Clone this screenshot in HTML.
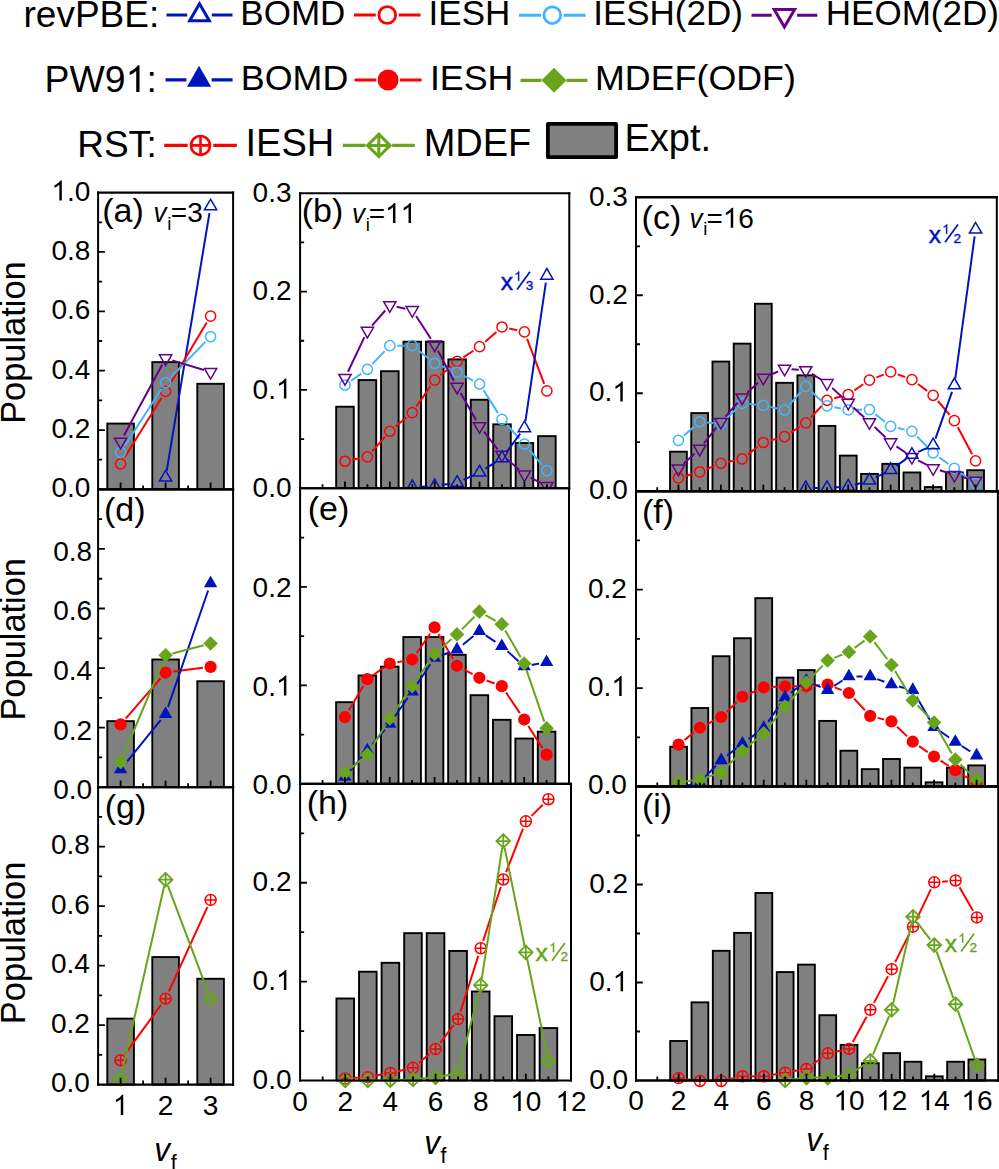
<!DOCTYPE html>
<html><head><meta charset="utf-8"><style>
html,body{margin:0;padding:0;background:#fff;overflow:hidden;width:999px;height:1169px;}
svg{display:block;}
text{font-family:"Liberation Sans", sans-serif;font-kerning:none;}
</style></head><body>
<svg width="999" height="1169" viewBox="0 0 999 1169">
<rect width="999" height="1169" fill="#fff"/>
<clipPath id="clip10"><rect x="98.1" y="192.6" width="135.00" height="296.80"/></clipPath>
<g clip-path="url(#clip10)">
<rect x="107.30" y="423.57" width="26.60" height="65.83" fill="#808080" stroke="#000" stroke-width="1.9"/>
<rect x="152.30" y="362.13" width="26.60" height="127.27" fill="#808080" stroke="#000" stroke-width="1.9"/>
<rect x="197.30" y="383.80" width="26.60" height="105.60" fill="#808080" stroke="#000" stroke-width="1.9"/>
<path d="M166.75,470.62L209.45,213.15" stroke="#0014BE" stroke-width="2.0" fill="none"/>
<polygon points="159.45,481.07 171.75,481.07 165.60,470.42" fill="none" stroke="#0014BE" stroke-width="1.5" stroke-linejoin="miter"/>
<polygon points="204.45,209.80 216.75,209.80 210.60,199.15" fill="none" stroke="#0014BE" stroke-width="1.5" stroke-linejoin="miter"/>
<path d="M124.53,457.55L161.67,397.78M169.42,385.06L206.78,322.47" stroke="#FF0000" stroke-width="2.0" fill="none"/>
<circle cx="120.60" cy="463.88" r="5.10" fill="none" stroke="#FF0000" stroke-width="1.5"/>
<circle cx="165.60" cy="391.46" r="5.10" fill="none" stroke="#FF0000" stroke-width="1.5"/>
<circle cx="210.60" cy="316.07" r="5.10" fill="none" stroke="#FF0000" stroke-width="1.5"/>
<path d="M124.64,446.04L161.56,388.81M170.81,377.23L205.39,341.87" stroke="#3DB5FF" stroke-width="2.0" fill="none"/>
<circle cx="120.60" cy="452.30" r="5.10" fill="none" stroke="#3DB5FF" stroke-width="1.5"/>
<circle cx="165.60" cy="382.55" r="5.10" fill="none" stroke="#3DB5FF" stroke-width="1.5"/>
<circle cx="210.60" cy="336.55" r="5.10" fill="none" stroke="#3DB5FF" stroke-width="1.5"/>
<path d="M123.92,435.57L162.28,364.49M172.30,360.36L203.90,369.95" stroke="#66008A" stroke-width="2.0" fill="none"/>
<polygon points="114.45,438.18 126.75,438.18 120.60,448.83" fill="none" stroke="#66008A" stroke-width="1.5" stroke-linejoin="miter"/>
<polygon points="159.45,354.78 171.75,354.78 165.60,365.43" fill="none" stroke="#66008A" stroke-width="1.5" stroke-linejoin="miter"/>
<polygon points="204.45,368.43 216.75,368.43 210.60,379.08" fill="none" stroke="#66008A" stroke-width="1.5" stroke-linejoin="miter"/>
</g>
<path d="M98.10,459.72h4.0M98.10,430.04h6.8M98.10,400.36h4.0M98.10,370.68h6.8M98.10,341.00h4.0M98.10,311.32h6.8M98.10,281.64h4.0M98.10,251.96h6.8M98.10,222.28h4.0M120.60,489.40v-6.8M165.60,489.40v-6.8M210.60,489.40v-6.8M143.10,489.40v-4.0M188.10,489.40v-4.0" stroke="#000" stroke-width="1.8" fill="none"/>
<path d="M97.10,192.60H234.10M97.10,489.40H234.10" stroke="#000" stroke-width="2.1" fill="none"/>
<path d="M98.10,191.55V490.45M233.10,191.55V490.45" stroke="#000" stroke-width="2" fill="none"/>
<text x="51.38" y="497.34" font-size="28" fill="#000" style="">0.0</text>
<text x="51.38" y="437.98" font-size="28" fill="#000" style="">0.2</text>
<text x="51.38" y="378.62" font-size="28" fill="#000" style="">0.4</text>
<text x="51.38" y="319.26" font-size="28" fill="#000" style="">0.6</text>
<text x="51.38" y="259.90" font-size="28" fill="#000" style="">0.8</text>
<path d="M763 0H583V1147Q518 1085 422 1029Q326 973 225 935V1109Q406 1194 518 1295Q630 1396 670 1466H763Z" fill="#000" transform="translate(51.38,200.54) scale(0.01367,-0.01367)"/>
<text x="66.95" y="200.54" font-size="28" fill="#000">.0</text>
<text x="102.19" y="221.70" font-size="34" fill="#000" style="">(a)</text>
<clipPath id="clip11"><rect x="98.1" y="489.4" width="135.00" height="297.80"/></clipPath>
<g clip-path="url(#clip11)">
<rect x="107.30" y="721.15" width="26.60" height="66.05" fill="#808080" stroke="#000" stroke-width="1.9"/>
<rect x="152.30" y="659.50" width="26.60" height="127.70" fill="#808080" stroke="#000" stroke-width="1.9"/>
<rect x="197.30" y="681.24" width="26.60" height="105.96" fill="#808080" stroke="#000" stroke-width="1.9"/>
<path d="M125.65,718.55L160.55,678.36M173.24,671.59L202.96,667.85" stroke="#FF0000" stroke-width="2.0" fill="none"/>
<circle cx="120.60" cy="724.36" r="6.10" fill="#FF0000"/>
<circle cx="165.60" cy="672.55" r="6.10" fill="#FF0000"/>
<circle cx="210.60" cy="666.89" r="6.10" fill="#FF0000"/>
<path d="M125.39,763.58L160.81,719.99M168.07,706.90L208.13,590.54" stroke="#0014BE" stroke-width="2.0" fill="none"/>
<polygon points="113.90,773.35 127.30,773.35 120.60,761.74" fill="#0014BE"/>
<polygon points="158.90,717.96 172.30,717.96 165.60,706.35" fill="#0014BE"/>
<polygon points="203.90,587.22 217.30,587.22 210.60,575.62" fill="#0014BE"/>
<path d="M123.35,755.49L162.85,661.79M172.44,653.48L203.76,645.28" stroke="#68A41C" stroke-width="2.0" fill="none"/>
<polygon points="120.60,754.71 127.90,762.01 120.60,769.31 113.30,762.01" fill="#68A41C"/>
<polygon points="165.60,647.97 172.90,655.27 165.60,662.57 158.30,655.27" fill="#68A41C"/>
<polygon points="210.60,636.18 217.90,643.48 210.60,650.78 203.30,643.48" fill="#68A41C"/>
</g>
<path d="M98.10,757.42h4.0M98.10,727.64h6.8M98.10,697.86h4.0M98.10,668.08h6.8M98.10,638.30h4.0M98.10,608.52h6.8M98.10,578.74h4.0M98.10,548.96h6.8M98.10,519.18h4.0M120.60,787.20v-6.8M165.60,787.20v-6.8M210.60,787.20v-6.8M143.10,787.20v-4.0M188.10,787.20v-4.0" stroke="#000" stroke-width="1.8" fill="none"/>
<path d="M97.10,489.40H234.10M97.10,787.20H234.10" stroke="#000" stroke-width="2.1" fill="none"/>
<path d="M98.10,488.35V788.25M233.10,488.35V788.25" stroke="#000" stroke-width="2" fill="none"/>
<text x="53.18" y="799.14" font-size="28" fill="#000" style="">0.0</text>
<text x="53.18" y="739.58" font-size="28" fill="#000" style="">0.2</text>
<text x="53.18" y="680.02" font-size="28" fill="#000" style="">0.4</text>
<text x="53.18" y="620.46" font-size="28" fill="#000" style="">0.6</text>
<text x="53.18" y="560.90" font-size="28" fill="#000" style="">0.8</text>
<text x="103.99" y="520.80" font-size="34" fill="#000" style="">(d)</text>
<clipPath id="clip12"><rect x="98.1" y="787.2" width="135.00" height="297.40"/></clipPath>
<g>
<rect x="107.30" y="1018.63" width="26.60" height="65.96" fill="#808080" stroke="#000" stroke-width="1.9"/>
<rect x="152.30" y="957.07" width="26.60" height="127.53" fill="#808080" stroke="#000" stroke-width="1.9"/>
<rect x="197.30" y="978.78" width="26.60" height="105.82" fill="#808080" stroke="#000" stroke-width="1.9"/>
<path d="M125.23,1053.88L160.97,1004.99M168.86,991.51L207.34,907.06" stroke="#FF0000" stroke-width="2.0" fill="none"/>
<g stroke="#FF0000" stroke-width="1.5" fill="none"><circle cx="120.60" cy="1060.21" r="5.50"/><path d="M115.10,1060.21H126.10M120.60,1054.71V1065.71"/></g>
<g stroke="#FF0000" stroke-width="1.5" fill="none"><circle cx="165.60" cy="998.65" r="5.50"/><path d="M160.10,998.65H171.10M165.60,993.15V1004.15"/></g>
<g stroke="#FF0000" stroke-width="1.5" fill="none"><circle cx="210.60" cy="899.91" r="5.50"/><path d="M205.10,899.91H216.10M210.60,894.41V905.41"/></g>
<path d="M122.08,1072.27L164.12,886.23M167.97,885.96L208.23,992.68" stroke="#68A41C" stroke-width="2.0" fill="none"/>
<g stroke="#68A41C" stroke-width="1.8" fill="none"><polygon points="120.60,1072.00 127.40,1078.80 120.60,1085.60 113.80,1078.80"/><path d="M113.80,1078.80H127.40M120.60,1072.00V1085.60"/></g>
<g stroke="#68A41C" stroke-width="1.8" fill="none"><polygon points="165.60,872.89 172.40,879.69 165.60,886.49 158.80,879.69"/><path d="M158.80,879.69H172.40M165.60,872.89V886.49"/></g>
<g stroke="#68A41C" stroke-width="1.8" fill="none"><polygon points="210.60,992.15 217.40,998.95 210.60,1005.75 203.80,998.95"/><path d="M203.80,998.95H217.40M210.60,992.15V1005.75"/></g>
</g>
<path d="M98.10,1054.86h4.0M98.10,1025.12h6.8M98.10,995.38h4.0M98.10,965.64h6.8M98.10,935.90h4.0M98.10,906.16h6.8M98.10,876.42h4.0M98.10,846.68h6.8M98.10,816.94h4.0M120.60,1084.60v-6.8M165.60,1084.60v-6.8M210.60,1084.60v-6.8M143.10,1084.60v-4.0M188.10,1084.60v-4.0" stroke="#000" stroke-width="1.8" fill="none"/>
<path d="M97.10,787.20H234.10M97.10,1084.60H234.10" stroke="#000" stroke-width="2.1" fill="none"/>
<path d="M98.10,786.15V1085.65M233.10,786.15V1085.65" stroke="#000" stroke-width="2" fill="none"/>
<text x="50.88" y="1092.34" font-size="28" fill="#000" style="">0.0</text>
<text x="50.88" y="1032.86" font-size="28" fill="#000" style="">0.2</text>
<text x="50.88" y="973.38" font-size="28" fill="#000" style="">0.4</text>
<text x="50.88" y="913.90" font-size="28" fill="#000" style="">0.6</text>
<text x="50.88" y="854.42" font-size="28" fill="#000" style="">0.8</text>
<text x="104.69" y="818.40" font-size="34" fill="#000" style="">(g)</text>
<clipPath id="clip20"><rect x="300.1" y="193.2" width="269.20" height="295.10"/></clipPath>
<g clip-path="url(#clip20)">
<rect x="336.17" y="406.72" width="17.60" height="81.58" fill="#808080" stroke="#000" stroke-width="1.9"/>
<rect x="358.60" y="380.06" width="17.60" height="108.24" fill="#808080" stroke="#000" stroke-width="1.9"/>
<rect x="381.03" y="371.21" width="17.60" height="117.09" fill="#808080" stroke="#000" stroke-width="1.9"/>
<rect x="403.47" y="341.70" width="17.60" height="146.60" fill="#808080" stroke="#000" stroke-width="1.9"/>
<rect x="425.90" y="341.70" width="17.60" height="146.60" fill="#808080" stroke="#000" stroke-width="1.9"/>
<rect x="448.33" y="359.41" width="17.60" height="128.89" fill="#808080" stroke="#000" stroke-width="1.9"/>
<rect x="470.77" y="399.74" width="17.60" height="88.56" fill="#808080" stroke="#000" stroke-width="1.9"/>
<rect x="493.20" y="424.33" width="17.60" height="63.97" fill="#808080" stroke="#000" stroke-width="1.9"/>
<rect x="515.63" y="443.02" width="17.60" height="45.28" fill="#808080" stroke="#000" stroke-width="1.9"/>
<rect x="538.07" y="436.13" width="17.60" height="52.17" fill="#808080" stroke="#000" stroke-width="1.9"/>
<path d="M352.28,459.81L360.09,458.26M372.31,451.22L384.92,436.85M395.56,426.48L406.54,417.33M416.50,406.43L430.46,386.23M440.42,375.33L451.41,366.18M463.36,357.31L473.34,350.75M485.17,341.74L496.40,331.89M509.28,328.57L517.16,330.30M527.08,338.86L544.22,383.95" stroke="#FF0000" stroke-width="2.0" fill="none"/>
<circle cx="344.97" cy="461.25" r="5.10" fill="none" stroke="#FF0000" stroke-width="1.5"/>
<circle cx="367.40" cy="456.82" r="5.10" fill="none" stroke="#FF0000" stroke-width="1.5"/>
<circle cx="389.83" cy="431.25" r="5.10" fill="none" stroke="#FF0000" stroke-width="1.5"/>
<circle cx="412.27" cy="412.56" r="5.10" fill="none" stroke="#FF0000" stroke-width="1.5"/>
<circle cx="434.70" cy="380.10" r="5.10" fill="none" stroke="#FF0000" stroke-width="1.5"/>
<circle cx="457.13" cy="361.41" r="5.10" fill="none" stroke="#FF0000" stroke-width="1.5"/>
<circle cx="479.57" cy="346.65" r="5.10" fill="none" stroke="#FF0000" stroke-width="1.5"/>
<circle cx="502.00" cy="326.98" r="5.10" fill="none" stroke="#FF0000" stroke-width="1.5"/>
<circle cx="524.43" cy="331.90" r="5.10" fill="none" stroke="#FF0000" stroke-width="1.5"/>
<circle cx="546.87" cy="390.92" r="5.10" fill="none" stroke="#FF0000" stroke-width="1.5"/>
<path d="M351.07,380.74L361.30,373.56M372.53,363.88L384.70,351.07M397.28,345.67L404.82,345.67M418.11,350.28L428.85,358.76M441.63,366.11L450.20,369.49M463.73,375.70L472.97,380.56M483.55,390.32L498.01,413.15M507.02,424.95L519.41,438.53M529.24,449.73L542.06,464.90" stroke="#3DB5FF" stroke-width="2.0" fill="none"/>
<circle cx="344.97" cy="385.01" r="5.10" fill="none" stroke="#3DB5FF" stroke-width="1.5"/>
<circle cx="367.40" cy="369.28" r="5.10" fill="none" stroke="#3DB5FF" stroke-width="1.5"/>
<circle cx="389.83" cy="345.67" r="5.10" fill="none" stroke="#3DB5FF" stroke-width="1.5"/>
<circle cx="412.27" cy="345.67" r="5.10" fill="none" stroke="#3DB5FF" stroke-width="1.5"/>
<circle cx="434.70" cy="363.37" r="5.10" fill="none" stroke="#3DB5FF" stroke-width="1.5"/>
<circle cx="457.13" cy="372.23" r="5.10" fill="none" stroke="#3DB5FF" stroke-width="1.5"/>
<circle cx="479.57" cy="384.03" r="5.10" fill="none" stroke="#3DB5FF" stroke-width="1.5"/>
<circle cx="502.00" cy="419.44" r="5.10" fill="none" stroke="#3DB5FF" stroke-width="1.5"/>
<circle cx="524.43" cy="444.04" r="5.10" fill="none" stroke="#3DB5FF" stroke-width="1.5"/>
<circle cx="546.87" cy="470.59" r="5.10" fill="none" stroke="#3DB5FF" stroke-width="1.5"/>
<path d="M347.97,371.72L364.40,337.14M372.02,325.56L385.22,310.51M396.67,306.75L405.43,308.67M416.09,316.03L430.88,338.73M437.98,350.78L453.85,380.71M460.60,392.97L476.10,420.16M483.89,431.74L497.67,449.26M507.26,459.38L519.17,469.82M530.65,477.65L540.65,482.83" stroke="#66008A" stroke-width="2.0" fill="none"/>
<polygon points="338.82,374.49 351.12,374.49 344.97,385.14" fill="none" stroke="#66008A" stroke-width="1.5" stroke-linejoin="miter"/>
<polygon points="361.25,327.27 373.55,327.27 367.40,337.92" fill="none" stroke="#66008A" stroke-width="1.5" stroke-linejoin="miter"/>
<polygon points="383.68,301.70 395.98,301.70 389.83,312.35" fill="none" stroke="#66008A" stroke-width="1.5" stroke-linejoin="miter"/>
<polygon points="406.12,306.61 418.42,306.61 412.27,317.27" fill="none" stroke="#66008A" stroke-width="1.5" stroke-linejoin="miter"/>
<polygon points="428.55,341.04 440.85,341.04 434.70,351.69" fill="none" stroke="#66008A" stroke-width="1.5" stroke-linejoin="miter"/>
<polygon points="450.98,383.34 463.28,383.34 457.13,393.99" fill="none" stroke="#66008A" stroke-width="1.5" stroke-linejoin="miter"/>
<polygon points="473.42,422.69 485.72,422.69 479.57,433.34" fill="none" stroke="#66008A" stroke-width="1.5" stroke-linejoin="miter"/>
<polygon points="495.85,451.21 508.15,451.21 502.00,461.87" fill="none" stroke="#66008A" stroke-width="1.5" stroke-linejoin="miter"/>
<polygon points="518.28,470.89 530.58,470.89 524.43,481.54" fill="none" stroke="#66008A" stroke-width="1.5" stroke-linejoin="miter"/>
<polygon points="540.72,482.49 553.02,482.49 546.87,493.15" fill="none" stroke="#66008A" stroke-width="1.5" stroke-linejoin="miter"/>
<path d="M419.26,486.82L427.71,486.45M441.62,485.11L450.21,483.83M463.48,479.85L473.22,475.32M485.47,468.61L496.09,461.86M506.19,452.50L520.24,433.71M525.45,421.18L545.85,282.56" stroke="#0014BE" stroke-width="2.0" fill="none"/>
<polygon points="406.12,490.68 418.42,490.68 412.27,480.02" fill="none" stroke="#0014BE" stroke-width="1.5" stroke-linejoin="miter"/>
<polygon points="428.55,489.69 440.85,489.69 434.70,479.04" fill="none" stroke="#0014BE" stroke-width="1.5" stroke-linejoin="miter"/>
<polygon points="450.98,486.35 463.28,486.35 457.13,475.69" fill="none" stroke="#0014BE" stroke-width="1.5" stroke-linejoin="miter"/>
<polygon points="473.42,475.92 485.72,475.92 479.57,465.27" fill="none" stroke="#0014BE" stroke-width="1.5" stroke-linejoin="miter"/>
<polygon points="495.85,461.66 508.15,461.66 502.00,451.00" fill="none" stroke="#0014BE" stroke-width="1.5" stroke-linejoin="miter"/>
<polygon points="518.28,431.66 530.58,431.66 524.43,421.00" fill="none" stroke="#0014BE" stroke-width="1.5" stroke-linejoin="miter"/>
<polygon points="540.72,279.19 553.02,279.19 546.87,268.53" fill="none" stroke="#0014BE" stroke-width="1.5" stroke-linejoin="miter"/>
</g>
<path d="M300.10,439.12h4.0M300.10,389.93h6.8M300.10,340.75h4.0M300.10,291.57h6.8M300.10,242.38h4.0M344.97,488.30v-6.8M389.83,488.30v-6.8M434.70,488.30v-6.8M479.57,488.30v-6.8M524.43,488.30v-6.8M322.53,488.30v-4.0M367.40,488.30v-4.0M412.27,488.30v-4.0M457.13,488.30v-4.0M502.00,488.30v-4.0M546.87,488.30v-4.0" stroke="#000" stroke-width="1.8" fill="none"/>
<path d="M299.10,193.20H570.30M299.10,488.30H570.30" stroke="#000" stroke-width="2.1" fill="none"/>
<path d="M300.10,192.15V489.35M569.30,192.15V489.35" stroke="#000" stroke-width="2" fill="none"/>
<text x="252.58" y="496.94" font-size="28" fill="#000" style="">0.0</text>
<text x="252.58" y="398.57" font-size="28" fill="#000">0.</text>
<path d="M763 0H583V1147Q518 1085 422 1029Q326 973 225 935V1109Q406 1194 518 1295Q630 1396 670 1466H763Z" fill="#000" transform="translate(275.93,398.57) scale(0.01367,-0.01367)"/>
<text x="252.58" y="300.21" font-size="28" fill="#000" style="">0.2</text>
<text x="252.58" y="201.84" font-size="28" fill="#000" style="">0.3</text>
<text x="301.79" y="222.40" font-size="34" fill="#000" style="">(b)</text>
<clipPath id="clip21"><rect x="300.1" y="488.3" width="268.90" height="295.60"/></clipPath>
<g clip-path="url(#clip21)">
<rect x="336.12" y="702.18" width="17.60" height="81.72" fill="#808080" stroke="#000" stroke-width="1.9"/>
<rect x="358.53" y="675.48" width="17.60" height="108.42" fill="#808080" stroke="#000" stroke-width="1.9"/>
<rect x="380.93" y="666.61" width="17.60" height="117.29" fill="#808080" stroke="#000" stroke-width="1.9"/>
<rect x="403.34" y="637.05" width="17.60" height="146.85" fill="#808080" stroke="#000" stroke-width="1.9"/>
<rect x="425.75" y="637.05" width="17.60" height="146.85" fill="#808080" stroke="#000" stroke-width="1.9"/>
<rect x="448.16" y="654.79" width="17.60" height="129.11" fill="#808080" stroke="#000" stroke-width="1.9"/>
<rect x="470.57" y="695.18" width="17.60" height="88.72" fill="#808080" stroke="#000" stroke-width="1.9"/>
<rect x="492.97" y="719.82" width="17.60" height="64.08" fill="#808080" stroke="#000" stroke-width="1.9"/>
<rect x="515.38" y="738.54" width="17.60" height="45.36" fill="#808080" stroke="#000" stroke-width="1.9"/>
<rect x="537.79" y="731.64" width="17.60" height="52.26" fill="#808080" stroke="#000" stroke-width="1.9"/>
<path d="M348.83,710.46L363.41,685.79M373.64,674.75L383.42,667.90M397.32,662.16L404.56,660.88M416.55,653.24L430.14,633.74M438.44,634.08L453.07,659.11M463.74,669.40L472.58,674.14M486.58,680.48L494.56,683.46M506.06,692.55L519.89,713.16M528.33,726.05L542.45,748.15" stroke="#FF0000" stroke-width="2.0" fill="none"/>
<circle cx="344.92" cy="717.09" r="6.10" fill="#FF0000"/>
<circle cx="367.33" cy="679.16" r="6.10" fill="#FF0000"/>
<circle cx="389.73" cy="663.49" r="6.10" fill="#FF0000"/>
<circle cx="412.14" cy="659.55" r="6.10" fill="#FF0000"/>
<circle cx="434.55" cy="627.43" r="6.10" fill="#FF0000"/>
<circle cx="456.96" cy="665.76" r="6.10" fill="#FF0000"/>
<circle cx="479.37" cy="677.78" r="6.10" fill="#FF0000"/>
<circle cx="501.77" cy="686.15" r="6.10" fill="#FF0000"/>
<circle cx="524.18" cy="719.56" r="6.10" fill="#FF0000"/>
<circle cx="546.59" cy="754.64" r="6.10" fill="#FF0000"/>
<path d="M349.81,771.15L362.43,756.17M372.22,744.55L384.84,729.57M394.07,717.52L407.80,697.78M416.36,685.21L430.33,664.26M441.67,655.28L449.84,652.22M462.84,644.75L473.48,636.05M485.70,635.44L495.44,641.91M507.42,651.20L518.54,661.22M531.66,664.93L539.12,663.56" stroke="#0014BE" stroke-width="2.0" fill="none"/>
<polygon points="338.22,780.83 351.62,780.83 344.92,769.23" fill="#0014BE"/>
<polygon points="360.63,754.23 374.03,754.23 367.33,742.63" fill="#0014BE"/>
<polygon points="383.03,727.63 396.43,727.63 389.73,716.02" fill="#0014BE"/>
<polygon points="405.44,695.41 418.84,695.41 412.14,683.80" fill="#0014BE"/>
<polygon points="427.85,661.81 441.25,661.81 434.55,650.20" fill="#0014BE"/>
<polygon points="450.26,653.43 463.66,653.43 456.96,641.83" fill="#0014BE"/>
<polygon points="472.67,635.10 486.07,635.10 479.37,623.50" fill="#0014BE"/>
<polygon points="495.07,649.98 508.47,649.98 501.77,638.38" fill="#0014BE"/>
<polygon points="517.48,670.18 530.88,670.18 524.18,658.58" fill="#0014BE"/>
<polygon points="539.89,666.04 553.29,666.04 546.59,654.44" fill="#0014BE"/>
<path d="M350.38,768.57L361.86,759.13M371.05,748.62L386.01,724.49M393.76,712.66L408.11,691.97M416.19,680.35L430.50,659.84M439.87,649.37L451.63,639.08M461.92,629.38L474.40,616.71M485.53,615.13L495.61,620.81M505.29,630.42L520.67,657.35M526.49,670.18L544.28,721.64" stroke="#68A41C" stroke-width="2.0" fill="none"/>
<polygon points="344.92,765.76 352.22,773.06 344.92,780.36 337.62,773.06" fill="#68A41C"/>
<polygon points="367.33,747.34 374.63,754.64 367.33,761.94 360.03,754.64" fill="#68A41C"/>
<polygon points="389.73,711.17 397.03,718.47 389.73,725.77 382.43,718.47" fill="#68A41C"/>
<polygon points="412.14,678.85 419.44,686.15 412.14,693.45 404.84,686.15" fill="#68A41C"/>
<polygon points="434.55,646.73 441.85,654.03 434.55,661.33 427.25,654.03" fill="#68A41C"/>
<polygon points="456.96,627.12 464.26,634.42 456.96,641.72 449.66,634.42" fill="#68A41C"/>
<polygon points="479.37,604.36 486.67,611.66 479.37,618.96 472.07,611.66" fill="#68A41C"/>
<polygon points="501.77,616.98 509.07,624.28 501.77,631.58 494.47,624.28" fill="#68A41C"/>
<polygon points="524.18,656.19 531.48,663.49 524.18,670.79 516.88,663.49" fill="#68A41C"/>
<polygon points="546.59,721.03 553.89,728.33 546.59,735.63 539.29,728.33" fill="#68A41C"/>
</g>
<path d="M300.10,734.63h4.0M300.10,685.37h6.8M300.10,636.10h4.0M300.10,586.83h6.8M300.10,537.57h4.0M344.92,783.90v-6.8M389.73,783.90v-6.8M434.55,783.90v-6.8M479.37,783.90v-6.8M524.18,783.90v-6.8M322.51,783.90v-4.0M367.33,783.90v-4.0M412.14,783.90v-4.0M456.96,783.90v-4.0M501.77,783.90v-4.0M546.59,783.90v-4.0" stroke="#000" stroke-width="1.8" fill="none"/>
<path d="M299.10,488.30H570.00M299.10,783.90H570.00" stroke="#000" stroke-width="2.1" fill="none"/>
<path d="M300.10,487.25V784.95M569.00,487.25V784.95" stroke="#000" stroke-width="2" fill="none"/>
<text x="252.58" y="794.04" font-size="28" fill="#000" style="">0.0</text>
<text x="252.58" y="695.51" font-size="28" fill="#000">0.</text>
<path d="M763 0H583V1147Q518 1085 422 1029Q326 973 225 935V1109Q406 1194 518 1295Q630 1396 670 1466H763Z" fill="#000" transform="translate(275.93,695.51) scale(0.01367,-0.01367)"/>
<text x="252.58" y="596.97" font-size="28" fill="#000" style="">0.2</text>
<text x="307.69" y="519.50" font-size="34" fill="#000" style="">(e)</text>
<clipPath id="clip22"><rect x="300.1" y="783.9" width="270.90" height="296.60"/></clipPath>
<g>
<rect x="336.45" y="998.50" width="17.60" height="82.00" fill="#808080" stroke="#000" stroke-width="1.9"/>
<rect x="359.03" y="971.71" width="17.60" height="108.79" fill="#808080" stroke="#000" stroke-width="1.9"/>
<rect x="381.60" y="962.81" width="17.60" height="117.69" fill="#808080" stroke="#000" stroke-width="1.9"/>
<rect x="404.18" y="933.15" width="17.60" height="147.35" fill="#808080" stroke="#000" stroke-width="1.9"/>
<rect x="426.75" y="933.15" width="17.60" height="147.35" fill="#808080" stroke="#000" stroke-width="1.9"/>
<rect x="449.32" y="950.95" width="17.60" height="129.55" fill="#808080" stroke="#000" stroke-width="1.9"/>
<rect x="471.90" y="991.48" width="17.60" height="89.02" fill="#808080" stroke="#000" stroke-width="1.9"/>
<rect x="494.47" y="1016.20" width="17.60" height="64.30" fill="#808080" stroke="#000" stroke-width="1.9"/>
<rect x="517.05" y="1034.98" width="17.60" height="45.52" fill="#808080" stroke="#000" stroke-width="1.9"/>
<rect x="539.62" y="1028.06" width="17.60" height="52.44" fill="#808080" stroke="#000" stroke-width="1.9"/>
<path d="M353.09,1078.04L359.99,1077.62M375.54,1075.69L382.69,1074.34M398.06,1071.18L405.31,1069.56M419.01,1062.82L429.52,1054.08M440.27,1042.79L453.40,1025.37M460.51,1011.62L478.32,955.70M483.15,940.76L500.82,886.96M506.12,872.19L523.01,828.69M531.45,815.87L542.82,804.72" stroke="#FF0000" stroke-width="2.0" fill="none"/>
<g stroke="#FF0000" stroke-width="1.5" fill="none"><circle cx="345.25" cy="1078.52" r="5.50"/><path d="M339.75,1078.52H350.75M345.25,1073.02V1084.02"/></g>
<g stroke="#FF0000" stroke-width="1.5" fill="none"><circle cx="367.83" cy="1077.14" r="5.50"/><path d="M362.33,1077.14H373.33M367.83,1071.64V1082.64"/></g>
<g stroke="#FF0000" stroke-width="1.5" fill="none"><circle cx="390.40" cy="1072.89" r="5.50"/><path d="M384.90,1072.89H395.90M390.40,1067.39V1078.39"/></g>
<g stroke="#FF0000" stroke-width="1.5" fill="none"><circle cx="412.98" cy="1067.85" r="5.50"/><path d="M407.48,1067.85H418.48M412.98,1062.35V1073.35"/></g>
<g stroke="#FF0000" stroke-width="1.5" fill="none"><circle cx="435.55" cy="1049.06" r="5.50"/><path d="M430.05,1049.06H441.05M435.55,1043.56V1054.56"/></g>
<g stroke="#FF0000" stroke-width="1.5" fill="none"><circle cx="458.12" cy="1019.10" r="5.50"/><path d="M452.62,1019.10H463.62M458.12,1013.60V1024.60"/></g>
<g stroke="#FF0000" stroke-width="1.5" fill="none"><circle cx="480.70" cy="948.22" r="5.50"/><path d="M475.20,948.22H486.20M480.70,942.72V953.72"/></g>
<g stroke="#FF0000" stroke-width="1.5" fill="none"><circle cx="503.27" cy="879.50" r="5.50"/><path d="M497.77,879.50H508.77M503.27,874.00V885.00"/></g>
<g stroke="#FF0000" stroke-width="1.5" fill="none"><circle cx="525.85" cy="821.37" r="5.50"/><path d="M520.35,821.37H531.35M525.85,815.87V826.87"/></g>
<g stroke="#FF0000" stroke-width="1.5" fill="none"><circle cx="548.42" cy="799.22" r="5.50"/><path d="M542.92,799.22H553.92M548.42,793.72V804.72"/></g>
<path d="M351.95,1080.50L361.13,1080.50M374.52,1080.41L383.70,1080.29M397.10,1080.00L406.28,1079.72M419.64,1078.87L428.88,1077.98M442.15,1076.18L451.53,1074.54M459.79,1066.89L479.04,991.68M481.74,978.57L502.24,847.66M504.61,847.61L524.52,945.80M527.21,958.93L547.06,1054.56" stroke="#68A41C" stroke-width="2.0" fill="none"/>
<g stroke="#68A41C" stroke-width="1.8" fill="none"><polygon points="345.25,1073.70 352.05,1080.50 345.25,1087.30 338.45,1080.50"/><path d="M338.45,1080.50H352.05M345.25,1073.70V1087.30"/></g>
<g stroke="#68A41C" stroke-width="1.8" fill="none"><polygon points="367.83,1073.70 374.63,1080.50 367.83,1087.30 361.03,1080.50"/><path d="M361.03,1080.50H374.63M367.83,1073.70V1087.30"/></g>
<g stroke="#68A41C" stroke-width="1.8" fill="none"><polygon points="390.40,1073.40 397.20,1080.20 390.40,1087.00 383.60,1080.20"/><path d="M383.60,1080.20H397.20M390.40,1073.40V1087.00"/></g>
<g stroke="#68A41C" stroke-width="1.8" fill="none"><polygon points="412.98,1072.71 419.78,1079.51 412.98,1086.31 406.18,1079.51"/><path d="M406.18,1079.51H419.78M412.98,1072.71V1086.31"/></g>
<g stroke="#68A41C" stroke-width="1.8" fill="none"><polygon points="435.55,1070.54 442.35,1077.34 435.55,1084.14 428.75,1077.34"/><path d="M428.75,1077.34H442.35M435.55,1070.54V1084.14"/></g>
<g stroke="#68A41C" stroke-width="1.8" fill="none"><polygon points="458.12,1066.58 464.93,1073.38 458.12,1080.18 451.32,1073.38"/><path d="M451.32,1073.38H464.93M458.12,1066.58V1080.18"/></g>
<g stroke="#68A41C" stroke-width="1.8" fill="none"><polygon points="480.70,978.39 487.50,985.19 480.70,991.99 473.90,985.19"/><path d="M473.90,985.19H487.50M480.70,978.39V991.99"/></g>
<g stroke="#68A41C" stroke-width="1.8" fill="none"><polygon points="503.27,834.24 510.07,841.04 503.27,847.84 496.47,841.04"/><path d="M496.47,841.04H510.07M503.27,834.24V847.84"/></g>
<g stroke="#68A41C" stroke-width="1.8" fill="none"><polygon points="525.85,945.57 532.65,952.37 525.85,959.17 519.05,952.37"/><path d="M519.05,952.37H532.65M525.85,945.57V959.17"/></g>
<g stroke="#68A41C" stroke-width="1.8" fill="none"><polygon points="548.42,1054.32 555.22,1061.12 548.42,1067.92 541.62,1061.12"/><path d="M541.62,1061.12H555.22M548.42,1054.32V1067.92"/></g>
</g>
<path d="M300.10,1031.07h4.0M300.10,981.63h6.8M300.10,932.20h4.0M300.10,882.77h6.8M300.10,833.33h4.0M345.25,1080.50v-6.8M390.40,1080.50v-6.8M435.55,1080.50v-6.8M480.70,1080.50v-6.8M525.85,1080.50v-6.8M322.68,1080.50v-4.0M367.83,1080.50v-4.0M412.98,1080.50v-4.0M458.12,1080.50v-4.0M503.27,1080.50v-4.0M548.42,1080.50v-4.0" stroke="#000" stroke-width="1.8" fill="none"/>
<path d="M299.10,783.90H572.00M299.10,1080.50H572.00" stroke="#000" stroke-width="2.1" fill="none"/>
<path d="M300.10,782.85V1081.55M571.00,782.85V1081.55" stroke="#000" stroke-width="2" fill="none"/>
<text x="252.58" y="1088.84" font-size="28" fill="#000" style="">0.0</text>
<text x="252.58" y="989.97" font-size="28" fill="#000">0.</text>
<path d="M763 0H583V1147Q518 1085 422 1029Q326 973 225 935V1109Q406 1194 518 1295Q630 1396 670 1466H763Z" fill="#000" transform="translate(275.93,989.97) scale(0.01367,-0.01367)"/>
<text x="252.58" y="891.11" font-size="28" fill="#000" style="">0.2</text>
<text x="306.69" y="813.70" font-size="34" fill="#000" style="">(h)</text>
<clipPath id="clip30"><rect x="636.0" y="197.3" width="360.80" height="293.90"/></clipPath>
<g clip-path="url(#clip30)">
<rect x="670.05" y="451.69" width="16.80" height="39.51" fill="#808080" stroke="#000" stroke-width="1.9"/>
<rect x="691.27" y="413.09" width="16.80" height="78.11" fill="#808080" stroke="#000" stroke-width="1.9"/>
<rect x="712.49" y="361.56" width="16.80" height="129.64" fill="#808080" stroke="#000" stroke-width="1.9"/>
<rect x="733.72" y="343.63" width="16.80" height="147.57" fill="#808080" stroke="#000" stroke-width="1.9"/>
<rect x="754.94" y="303.76" width="16.80" height="187.44" fill="#808080" stroke="#000" stroke-width="1.9"/>
<rect x="776.16" y="382.82" width="16.80" height="108.38" fill="#808080" stroke="#000" stroke-width="1.9"/>
<rect x="797.39" y="375.37" width="16.80" height="115.83" fill="#808080" stroke="#000" stroke-width="1.9"/>
<rect x="818.61" y="425.92" width="16.80" height="65.28" fill="#808080" stroke="#000" stroke-width="1.9"/>
<rect x="839.84" y="455.61" width="16.80" height="35.59" fill="#808080" stroke="#000" stroke-width="1.9"/>
<rect x="861.06" y="473.93" width="16.80" height="17.27" fill="#808080" stroke="#000" stroke-width="1.9"/>
<rect x="882.28" y="463.84" width="16.80" height="27.36" fill="#808080" stroke="#000" stroke-width="1.9"/>
<rect x="903.51" y="472.46" width="16.80" height="18.74" fill="#808080" stroke="#000" stroke-width="1.9"/>
<rect x="924.73" y="487.06" width="16.80" height="4.14" fill="#808080" stroke="#000" stroke-width="1.9"/>
<rect x="945.95" y="472.46" width="16.80" height="18.74" fill="#808080" stroke="#000" stroke-width="1.9"/>
<rect x="967.18" y="470.21" width="16.80" height="20.99" fill="#808080" stroke="#000" stroke-width="1.9"/>
<path d="M685.61,475.92L692.51,473.95M706.57,469.10L713.99,466.08M728.20,461.80L734.82,460.45M748.00,454.40L757.45,447.08M770.52,440.52L777.38,438.62M790.81,432.57L799.54,426.88M810.90,417.40L821.90,405.71M834.20,398.33L841.05,396.46M854.40,390.32L863.29,384.29M876.40,377.41L883.74,374.57M897.68,374.43L904.91,377.06M917.90,384.04L927.14,390.86M937.92,401.00L949.56,414.86M957.82,427.16L972.11,454.33" stroke="#FF0000" stroke-width="2.0" fill="none"/>
<circle cx="678.45" cy="477.97" r="5.10" fill="none" stroke="#FF0000" stroke-width="1.5"/>
<circle cx="699.67" cy="471.90" r="5.10" fill="none" stroke="#FF0000" stroke-width="1.5"/>
<circle cx="720.89" cy="463.28" r="5.10" fill="none" stroke="#FF0000" stroke-width="1.5"/>
<circle cx="742.12" cy="458.97" r="5.10" fill="none" stroke="#FF0000" stroke-width="1.5"/>
<circle cx="763.34" cy="442.51" r="5.10" fill="none" stroke="#FF0000" stroke-width="1.5"/>
<circle cx="784.56" cy="436.63" r="5.10" fill="none" stroke="#FF0000" stroke-width="1.5"/>
<circle cx="805.79" cy="422.82" r="5.10" fill="none" stroke="#FF0000" stroke-width="1.5"/>
<circle cx="827.01" cy="400.29" r="5.10" fill="none" stroke="#FF0000" stroke-width="1.5"/>
<circle cx="848.24" cy="394.51" r="5.10" fill="none" stroke="#FF0000" stroke-width="1.5"/>
<circle cx="869.46" cy="380.11" r="5.10" fill="none" stroke="#FF0000" stroke-width="1.5"/>
<circle cx="890.68" cy="371.88" r="5.10" fill="none" stroke="#FF0000" stroke-width="1.5"/>
<circle cx="911.91" cy="379.62" r="5.10" fill="none" stroke="#FF0000" stroke-width="1.5"/>
<circle cx="933.13" cy="395.29" r="5.10" fill="none" stroke="#FF0000" stroke-width="1.5"/>
<circle cx="954.35" cy="420.57" r="5.10" fill="none" stroke="#FF0000" stroke-width="1.5"/>
<circle cx="975.58" cy="460.93" r="5.10" fill="none" stroke="#FF0000" stroke-width="1.5"/>
<path d="M684.05,435.44L694.07,426.65M707.08,422.56L713.49,423.27M726.22,418.88L736.79,408.53M749.53,404.04L755.93,404.66M770.62,406.96L777.28,408.41M789.56,404.46L800.80,392.00M811.27,391.51L821.53,400.93M834.34,407.32L840.91,408.53M855.68,409.78L862.01,409.70M875.31,414.21L884.83,421.73M897.93,428.05L904.65,429.64M917.15,436.64L927.89,447.50M939.14,457.21L948.35,463.97M960.41,472.71L969.52,479.22" stroke="#3DB5FF" stroke-width="2.0" fill="none"/>
<circle cx="678.45" cy="440.36" r="5.10" fill="none" stroke="#3DB5FF" stroke-width="1.5"/>
<circle cx="699.67" cy="421.74" r="5.10" fill="none" stroke="#3DB5FF" stroke-width="1.5"/>
<circle cx="720.89" cy="424.09" r="5.10" fill="none" stroke="#3DB5FF" stroke-width="1.5"/>
<circle cx="742.12" cy="403.32" r="5.10" fill="none" stroke="#3DB5FF" stroke-width="1.5"/>
<circle cx="763.34" cy="405.38" r="5.10" fill="none" stroke="#3DB5FF" stroke-width="1.5"/>
<circle cx="784.56" cy="409.99" r="5.10" fill="none" stroke="#3DB5FF" stroke-width="1.5"/>
<circle cx="805.79" cy="386.47" r="5.10" fill="none" stroke="#3DB5FF" stroke-width="1.5"/>
<circle cx="827.01" cy="405.97" r="5.10" fill="none" stroke="#3DB5FF" stroke-width="1.5"/>
<circle cx="848.24" cy="409.89" r="5.10" fill="none" stroke="#3DB5FF" stroke-width="1.5"/>
<circle cx="869.46" cy="409.59" r="5.10" fill="none" stroke="#3DB5FF" stroke-width="1.5"/>
<circle cx="890.68" cy="426.35" r="5.10" fill="none" stroke="#3DB5FF" stroke-width="1.5"/>
<circle cx="911.91" cy="431.34" r="5.10" fill="none" stroke="#3DB5FF" stroke-width="1.5"/>
<circle cx="933.13" cy="452.80" r="5.10" fill="none" stroke="#3DB5FF" stroke-width="1.5"/>
<circle cx="954.35" cy="468.37" r="5.10" fill="none" stroke="#3DB5FF" stroke-width="1.5"/>
<circle cx="975.58" cy="483.56" r="5.10" fill="none" stroke="#3DB5FF" stroke-width="1.5"/>
<path d="M683.55,463.88L694.56,453.57M704.01,443.29L716.55,427.43M725.48,416.65L737.53,402.74M747.25,392.69L758.21,382.52M769.78,375.02L778.12,371.48M791.55,369.23L798.80,369.73M811.77,373.86L821.03,379.50M832.16,387.89L843.09,397.99M853.39,407.47L864.30,417.50M874.53,427.06L885.61,437.59M896.45,446.38L906.14,453.05M918.10,460.27L926.93,464.92M939.80,470.30L947.68,472.82M961.11,476.78L968.82,478.88" stroke="#66008A" stroke-width="2.0" fill="none"/>
<polygon points="672.30,465.12 684.60,465.12 678.45,475.77" fill="none" stroke="#66008A" stroke-width="1.5" stroke-linejoin="miter"/>
<polygon points="693.52,445.23 705.82,445.23 699.67,455.88" fill="none" stroke="#66008A" stroke-width="1.5" stroke-linejoin="miter"/>
<polygon points="714.74,418.39 727.04,418.39 720.89,429.04" fill="none" stroke="#66008A" stroke-width="1.5" stroke-linejoin="miter"/>
<polygon points="735.97,393.90 748.27,393.90 742.12,404.55" fill="none" stroke="#66008A" stroke-width="1.5" stroke-linejoin="miter"/>
<polygon points="757.19,374.21 769.49,374.21 763.34,384.86" fill="none" stroke="#66008A" stroke-width="1.5" stroke-linejoin="miter"/>
<polygon points="778.41,365.19 790.71,365.19 784.56,375.85" fill="none" stroke="#66008A" stroke-width="1.5" stroke-linejoin="miter"/>
<polygon points="799.64,366.66 811.94,366.66 805.79,377.31" fill="none" stroke="#66008A" stroke-width="1.5" stroke-linejoin="miter"/>
<polygon points="820.86,379.59 833.16,379.59 827.01,390.25" fill="none" stroke="#66008A" stroke-width="1.5" stroke-linejoin="miter"/>
<polygon points="842.09,399.19 854.39,399.19 848.24,409.84" fill="none" stroke="#66008A" stroke-width="1.5" stroke-linejoin="miter"/>
<polygon points="863.31,418.68 875.61,418.68 869.46,429.34" fill="none" stroke="#66008A" stroke-width="1.5" stroke-linejoin="miter"/>
<polygon points="884.53,438.86 896.83,438.86 890.68,449.52" fill="none" stroke="#66008A" stroke-width="1.5" stroke-linejoin="miter"/>
<polygon points="905.76,453.46 918.06,453.46 911.91,464.11" fill="none" stroke="#66008A" stroke-width="1.5" stroke-linejoin="miter"/>
<polygon points="926.98,464.63 939.28,464.63 933.13,475.28" fill="none" stroke="#66008A" stroke-width="1.5" stroke-linejoin="miter"/>
<polygon points="948.20,471.39 960.50,471.39 954.35,482.04" fill="none" stroke="#66008A" stroke-width="1.5" stroke-linejoin="miter"/>
<polygon points="969.43,477.17 981.73,477.17 975.58,487.82" fill="none" stroke="#66008A" stroke-width="1.5" stroke-linejoin="miter"/>
<path d="M812.79,488.08L820.01,488.08M834.00,487.59L841.25,487.09M854.97,484.68L862.73,482.46M875.72,477.41L884.42,473.08M896.38,465.88L906.21,458.84M918.29,451.91L926.74,448.13M935.46,438.67L952.02,391.81M955.30,378.28L974.63,236.48" stroke="#0014BE" stroke-width="2.0" fill="none"/>
<polygon points="799.64,491.63 811.94,491.63 805.79,480.98" fill="none" stroke="#0014BE" stroke-width="1.5" stroke-linejoin="miter"/>
<polygon points="820.86,491.63 833.16,491.63 827.01,480.98" fill="none" stroke="#0014BE" stroke-width="1.5" stroke-linejoin="miter"/>
<polygon points="842.09,490.16 854.39,490.16 848.24,479.51" fill="none" stroke="#0014BE" stroke-width="1.5" stroke-linejoin="miter"/>
<polygon points="863.31,484.08 875.61,484.08 869.46,473.43" fill="none" stroke="#0014BE" stroke-width="1.5" stroke-linejoin="miter"/>
<polygon points="884.53,473.50 896.83,473.50 890.68,462.85" fill="none" stroke="#0014BE" stroke-width="1.5" stroke-linejoin="miter"/>
<polygon points="905.76,458.32 918.06,458.32 911.91,447.67" fill="none" stroke="#0014BE" stroke-width="1.5" stroke-linejoin="miter"/>
<polygon points="926.98,448.82 939.28,448.82 933.13,438.16" fill="none" stroke="#0014BE" stroke-width="1.5" stroke-linejoin="miter"/>
<polygon points="948.20,388.76 960.50,388.76 954.35,378.11" fill="none" stroke="#0014BE" stroke-width="1.5" stroke-linejoin="miter"/>
<polygon points="969.43,233.09 981.73,233.09 975.58,222.44" fill="none" stroke="#0014BE" stroke-width="1.5" stroke-linejoin="miter"/>
</g>
<path d="M636.00,442.22h4.0M636.00,393.23h6.8M636.00,344.25h4.0M636.00,295.27h6.8M636.00,246.28h4.0M678.45,491.20v-6.8M720.89,491.20v-6.8M763.34,491.20v-6.8M805.79,491.20v-6.8M848.24,491.20v-6.8M890.68,491.20v-6.8M933.13,491.20v-6.8M975.58,491.20v-6.8M657.22,491.20v-4.0M699.67,491.20v-4.0M742.12,491.20v-4.0M784.56,491.20v-4.0M827.01,491.20v-4.0M869.46,491.20v-4.0M911.91,491.20v-4.0M954.35,491.20v-4.0" stroke="#000" stroke-width="1.8" fill="none"/>
<path d="M635.00,197.30H997.80M635.00,491.20H997.80" stroke="#000" stroke-width="2.4" fill="none"/>
<path d="M636.00,196.10V492.40M996.80,196.10V492.40" stroke="#000" stroke-width="2" fill="none"/>
<text x="588.98" y="499.44" font-size="28" fill="#000" style="">0.0</text>
<text x="588.98" y="401.47" font-size="28" fill="#000">0.</text>
<path d="M763 0H583V1147Q518 1085 422 1029Q326 973 225 935V1109Q406 1194 518 1295Q630 1396 670 1466H763Z" fill="#000" transform="translate(612.33,401.47) scale(0.01367,-0.01367)"/>
<text x="588.98" y="303.51" font-size="28" fill="#000" style="">0.2</text>
<text x="588.98" y="205.54" font-size="28" fill="#000" style="">0.3</text>
<text x="641.59" y="228.50" font-size="34" fill="#000" style="">(c)</text>
<clipPath id="clip31"><rect x="636.0" y="491.2" width="361.90" height="295.30"/></clipPath>
<g clip-path="url(#clip31)">
<rect x="670.18" y="746.80" width="16.80" height="39.70" fill="#808080" stroke="#000" stroke-width="1.9"/>
<rect x="691.46" y="708.01" width="16.80" height="78.49" fill="#808080" stroke="#000" stroke-width="1.9"/>
<rect x="712.75" y="656.24" width="16.80" height="130.26" fill="#808080" stroke="#000" stroke-width="1.9"/>
<rect x="734.04" y="638.23" width="16.80" height="148.27" fill="#808080" stroke="#000" stroke-width="1.9"/>
<rect x="755.33" y="598.16" width="16.80" height="188.34" fill="#808080" stroke="#000" stroke-width="1.9"/>
<rect x="776.62" y="677.60" width="16.80" height="108.90" fill="#808080" stroke="#000" stroke-width="1.9"/>
<rect x="797.91" y="670.12" width="16.80" height="116.38" fill="#808080" stroke="#000" stroke-width="1.9"/>
<rect x="819.19" y="720.91" width="16.80" height="65.59" fill="#808080" stroke="#000" stroke-width="1.9"/>
<rect x="840.48" y="750.73" width="16.80" height="35.77" fill="#808080" stroke="#000" stroke-width="1.9"/>
<rect x="861.77" y="769.14" width="16.80" height="17.36" fill="#808080" stroke="#000" stroke-width="1.9"/>
<rect x="883.06" y="759.00" width="16.80" height="27.50" fill="#808080" stroke="#000" stroke-width="1.9"/>
<rect x="904.35" y="767.66" width="16.80" height="18.84" fill="#808080" stroke="#000" stroke-width="1.9"/>
<rect x="925.64" y="782.33" width="16.80" height="4.17" fill="#808080" stroke="#000" stroke-width="1.9"/>
<rect x="946.92" y="767.66" width="16.80" height="18.84" fill="#808080" stroke="#000" stroke-width="1.9"/>
<rect x="968.21" y="765.40" width="16.80" height="21.10" fill="#808080" stroke="#000" stroke-width="1.9"/>
<path d="M684.60,739.87L693.84,732.53M706.74,724.27L714.28,720.47M726.73,711.70L736.87,702.04M749.49,693.63L756.68,690.47M771.42,686.99L777.33,686.69M792.72,686.29L798.61,686.29M813.98,685.66L819.92,685.16M834.75,687.37L841.73,690.14M854.12,698.63L864.93,710.28M877.62,717.85L884.00,719.51M897.03,726.75L907.17,736.40M919.07,746.10L927.71,752.09M940.51,760.64L948.85,766.00M961.84,774.26L970.09,779.45" stroke="#FF0000" stroke-width="2.0" fill="none"/>
<circle cx="678.58" cy="744.67" r="6.10" fill="#FF0000"/>
<circle cx="699.86" cy="727.74" r="6.10" fill="#FF0000"/>
<circle cx="721.15" cy="717.01" r="6.10" fill="#FF0000"/>
<circle cx="742.44" cy="696.73" r="6.10" fill="#FF0000"/>
<circle cx="763.73" cy="687.38" r="6.10" fill="#FF0000"/>
<circle cx="785.02" cy="686.29" r="6.10" fill="#FF0000"/>
<circle cx="806.31" cy="686.29" r="6.10" fill="#FF0000"/>
<circle cx="827.59" cy="684.52" r="6.10" fill="#FF0000"/>
<circle cx="848.88" cy="692.99" r="6.10" fill="#FF0000"/>
<circle cx="870.17" cy="715.92" r="6.10" fill="#FF0000"/>
<circle cx="891.46" cy="721.44" r="6.10" fill="#FF0000"/>
<circle cx="912.75" cy="741.71" r="6.10" fill="#FF0000"/>
<circle cx="934.04" cy="756.48" r="6.10" fill="#FF0000"/>
<circle cx="955.32" cy="770.16" r="6.10" fill="#FF0000"/>
<circle cx="976.61" cy="783.55" r="6.10" fill="#FF0000"/>
<path d="M685.98,785.74L692.46,784.24M705.12,777.04L715.90,765.77M727.14,755.60L736.45,748.33M748.58,739.16L757.59,732.58M768.07,721.85L780.68,703.72M791.01,692.80L800.32,685.53M813.28,683.88L820.62,687.07M833.99,685.99L842.49,680.53M856.48,676.42L862.57,676.42M877.28,679.11L884.35,681.79M898.81,686.43L905.40,688.16M916.54,696.68L930.24,720.43M940.27,731.36L949.09,737.52M961.72,745.98L970.22,751.45" stroke="#0014BE" stroke-width="2.0" fill="none"/>
<polygon points="671.88,791.32 685.28,791.32 678.58,779.71" fill="#0014BE"/>
<polygon points="693.16,786.40 706.56,786.40 699.86,774.79" fill="#0014BE"/>
<polygon points="714.45,764.15 727.85,764.15 721.15,752.55" fill="#0014BE"/>
<polygon points="735.74,747.52 749.14,747.52 742.44,735.91" fill="#0014BE"/>
<polygon points="757.03,731.96 770.43,731.96 763.73,720.36" fill="#0014BE"/>
<polygon points="778.32,701.35 791.72,701.35 785.02,689.75" fill="#0014BE"/>
<polygon points="799.61,684.71 813.01,684.71 806.31,673.11" fill="#0014BE"/>
<polygon points="820.89,693.97 834.29,693.97 827.59,682.36" fill="#0014BE"/>
<polygon points="842.18,680.29 855.58,680.29 848.88,668.68" fill="#0014BE"/>
<polygon points="863.47,680.29 876.87,680.29 870.17,668.68" fill="#0014BE"/>
<polygon points="884.76,688.36 898.16,688.36 891.46,676.75" fill="#0014BE"/>
<polygon points="906.05,693.97 919.45,693.97 912.75,682.36" fill="#0014BE"/>
<polygon points="927.34,730.88 940.74,730.88 934.04,719.28" fill="#0014BE"/>
<polygon points="948.62,745.74 962.02,745.74 955.32,734.14" fill="#0014BE"/>
<polygon points="969.91,759.43 983.31,759.43 976.61,747.82" fill="#0014BE"/>
<path d="M685.58,781.39L692.86,780.38M706.59,777.21L714.43,774.63M726.15,767.41L737.45,756.08M747.87,746.52L758.30,737.79M768.14,727.72L780.60,712.10M789.71,701.28L801.61,687.85M811.22,677.46L822.68,665.60M834.17,657.89L842.31,654.65M854.60,647.87L864.46,640.66M874.41,642.15L887.22,659.27M895.10,671.00L909.10,694.31M917.65,705.47L929.13,717.42M937.56,728.65L951.80,753.40M960.45,764.41L971.49,774.93" stroke="#68A41C" stroke-width="2.0" fill="none"/>
<polygon points="678.58,775.07 685.88,782.37 678.58,789.67 671.28,782.37" fill="#68A41C"/>
<polygon points="699.86,772.11 707.16,779.41 699.86,786.71 692.56,779.41" fill="#68A41C"/>
<polygon points="721.15,765.12 728.45,772.42 721.15,779.72 713.85,772.42" fill="#68A41C"/>
<polygon points="742.44,743.76 749.74,751.06 742.44,758.36 735.14,751.06" fill="#68A41C"/>
<polygon points="763.73,725.95 771.03,733.25 763.73,740.55 756.43,733.25" fill="#68A41C"/>
<polygon points="785.02,699.27 792.32,706.57 785.02,713.87 777.72,706.57" fill="#68A41C"/>
<polygon points="806.31,675.25 813.61,682.55 806.31,689.85 799.01,682.55" fill="#68A41C"/>
<polygon points="827.59,653.21 834.89,660.51 827.59,667.81 820.29,660.51" fill="#68A41C"/>
<polygon points="848.88,644.74 856.18,652.04 848.88,659.34 841.58,652.04" fill="#68A41C"/>
<polygon points="870.17,629.19 877.47,636.49 870.17,643.79 862.87,636.49" fill="#68A41C"/>
<polygon points="891.46,657.63 898.76,664.93 891.46,672.23 884.16,664.93" fill="#68A41C"/>
<polygon points="912.75,693.07 920.05,700.37 912.75,707.67 905.45,700.37" fill="#68A41C"/>
<polygon points="934.04,715.22 941.34,722.52 934.04,729.82 926.74,722.52" fill="#68A41C"/>
<polygon points="955.32,752.23 962.62,759.53 955.32,766.83 948.02,759.53" fill="#68A41C"/>
<polygon points="976.61,772.51 983.91,779.81 976.61,787.11 969.31,779.81" fill="#68A41C"/>
</g>
<path d="M636.00,737.28h4.0M636.00,688.07h6.8M636.00,638.85h4.0M636.00,589.63h6.8M636.00,540.42h4.0M678.58,786.50v-6.8M721.15,786.50v-6.8M763.73,786.50v-6.8M806.31,786.50v-6.8M848.88,786.50v-6.8M891.46,786.50v-6.8M934.04,786.50v-6.8M976.61,786.50v-6.8M657.29,786.50v-4.0M699.86,786.50v-4.0M742.44,786.50v-4.0M785.02,786.50v-4.0M827.59,786.50v-4.0M870.17,786.50v-4.0M912.75,786.50v-4.0M955.32,786.50v-4.0" stroke="#000" stroke-width="1.8" fill="none"/>
<path d="M635.00,491.20H998.90M635.00,786.50H998.90" stroke="#000" stroke-width="2.4" fill="none"/>
<path d="M636.00,490.00V787.70M997.90,490.00V787.70" stroke="#000" stroke-width="2" fill="none"/>
<text x="587.88" y="794.44" font-size="28" fill="#000" style="">0.0</text>
<text x="587.88" y="696.01" font-size="28" fill="#000">0.</text>
<path d="M763 0H583V1147Q518 1085 422 1029Q326 973 225 935V1109Q406 1194 518 1295Q630 1396 670 1466H763Z" fill="#000" transform="translate(611.23,696.01) scale(0.01367,-0.01367)"/>
<text x="587.88" y="597.57" font-size="28" fill="#000" style="">0.2</text>
<text x="641.99" y="523.20" font-size="34" fill="#000" style="">(f)</text>
<clipPath id="clip32"><rect x="636.0" y="786.5" width="362.20" height="294.00"/></clipPath>
<g>
<rect x="670.21" y="1040.98" width="16.80" height="39.52" fill="#808080" stroke="#000" stroke-width="1.9"/>
<rect x="691.52" y="1002.36" width="16.80" height="78.14" fill="#808080" stroke="#000" stroke-width="1.9"/>
<rect x="712.82" y="950.82" width="16.80" height="129.68" fill="#808080" stroke="#000" stroke-width="1.9"/>
<rect x="734.13" y="932.88" width="16.80" height="147.62" fill="#808080" stroke="#000" stroke-width="1.9"/>
<rect x="755.44" y="893.00" width="16.80" height="187.50" fill="#808080" stroke="#000" stroke-width="1.9"/>
<rect x="776.74" y="972.08" width="16.80" height="108.42" fill="#808080" stroke="#000" stroke-width="1.9"/>
<rect x="798.05" y="964.63" width="16.80" height="115.87" fill="#808080" stroke="#000" stroke-width="1.9"/>
<rect x="819.35" y="1015.20" width="16.80" height="65.30" fill="#808080" stroke="#000" stroke-width="1.9"/>
<rect x="840.66" y="1044.90" width="16.80" height="35.60" fill="#808080" stroke="#000" stroke-width="1.9"/>
<rect x="861.96" y="1063.22" width="16.80" height="17.28" fill="#808080" stroke="#000" stroke-width="1.9"/>
<rect x="883.27" y="1053.13" width="16.80" height="27.37" fill="#808080" stroke="#000" stroke-width="1.9"/>
<rect x="904.58" y="1061.75" width="16.80" height="18.75" fill="#808080" stroke="#000" stroke-width="1.9"/>
<rect x="925.88" y="1076.35" width="16.80" height="4.15" fill="#808080" stroke="#000" stroke-width="1.9"/>
<rect x="947.19" y="1061.75" width="16.80" height="18.75" fill="#808080" stroke="#000" stroke-width="1.9"/>
<rect x="968.49" y="1059.50" width="16.80" height="21.00" fill="#808080" stroke="#000" stroke-width="1.9"/>
<path d="M686.39,1079.12L692.14,1079.92M707.77,1080.99L713.37,1080.99M728.89,1079.30L734.86,1077.98M750.38,1076.29L755.99,1076.29M771.57,1074.97L777.40,1073.98M792.87,1071.31L798.71,1070.29M812.78,1064.30L821.42,1057.99M835.44,1051.76L841.37,1050.54M852.81,1042.05L866.61,1016.74M874.01,1002.89L888.03,976.13M895.19,962.15L909.46,933.66M916.38,919.57L930.88,889.42M942.10,881.66L947.77,881.17M959.51,887.28L972.97,910.63" stroke="#FF0000" stroke-width="2.0" fill="none"/>
<g stroke="#FF0000" stroke-width="1.5" fill="none"><circle cx="678.61" cy="1078.05" r="5.50"/><path d="M673.11,1078.05H684.11M678.61,1072.55V1083.55"/></g>
<g stroke="#FF0000" stroke-width="1.5" fill="none"><circle cx="699.92" cy="1080.99" r="5.50"/><path d="M694.42,1080.99H705.42M699.92,1075.49V1086.49"/></g>
<g stroke="#FF0000" stroke-width="1.5" fill="none"><circle cx="721.22" cy="1080.99" r="5.50"/><path d="M715.72,1080.99H726.72M721.22,1075.49V1086.49"/></g>
<g stroke="#FF0000" stroke-width="1.5" fill="none"><circle cx="742.53" cy="1076.29" r="5.50"/><path d="M737.03,1076.29H748.03M742.53,1070.79V1081.79"/></g>
<g stroke="#FF0000" stroke-width="1.5" fill="none"><circle cx="763.84" cy="1076.29" r="5.50"/><path d="M758.34,1076.29H769.34M763.84,1070.79V1081.79"/></g>
<g stroke="#FF0000" stroke-width="1.5" fill="none"><circle cx="785.14" cy="1072.66" r="5.50"/><path d="M779.64,1072.66H790.64M785.14,1067.16V1078.16"/></g>
<g stroke="#FF0000" stroke-width="1.5" fill="none"><circle cx="806.45" cy="1068.94" r="5.50"/><path d="M800.95,1068.94H811.95M806.45,1063.44V1074.44"/></g>
<g stroke="#FF0000" stroke-width="1.5" fill="none"><circle cx="827.75" cy="1053.35" r="5.50"/><path d="M822.25,1053.35H833.25M827.75,1047.85V1058.85"/></g>
<g stroke="#FF0000" stroke-width="1.5" fill="none"><circle cx="849.06" cy="1048.94" r="5.50"/><path d="M843.56,1048.94H854.56M849.06,1043.44V1054.44"/></g>
<g stroke="#FF0000" stroke-width="1.5" fill="none"><circle cx="870.36" cy="1009.84" r="5.50"/><path d="M864.86,1009.84H875.86M870.36,1004.34V1015.34"/></g>
<g stroke="#FF0000" stroke-width="1.5" fill="none"><circle cx="891.67" cy="969.17" r="5.50"/><path d="M886.17,969.17H897.17M891.67,963.67V974.67"/></g>
<g stroke="#FF0000" stroke-width="1.5" fill="none"><circle cx="912.98" cy="926.64" r="5.50"/><path d="M907.48,926.64H918.48M912.98,921.14V932.14"/></g>
<g stroke="#FF0000" stroke-width="1.5" fill="none"><circle cx="934.28" cy="882.34" r="5.50"/><path d="M928.78,882.34H939.78M934.28,876.84V887.84"/></g>
<g stroke="#FF0000" stroke-width="1.5" fill="none"><circle cx="955.59" cy="880.48" r="5.50"/><path d="M950.09,880.48H961.09M955.59,874.98V885.98"/></g>
<g stroke="#FF0000" stroke-width="1.5" fill="none"><circle cx="976.89" cy="917.43" r="5.50"/><path d="M971.39,917.43H982.39M976.89,911.93V922.93"/></g>
<path d="M791.78,1079.58L799.81,1078.48M813.15,1077.56L821.05,1077.56M834.40,1076.70L842.41,1075.67M854.66,1071.13L864.77,1064.48M872.95,1054.62L889.09,1016.02M893.17,1003.31L911.48,923.27M917.00,922.10L930.25,939.71M936.55,951.37L953.32,997.86M957.80,1010.48L974.69,1058.89" stroke="#68A41C" stroke-width="2.0" fill="none"/>
<g stroke="#68A41C" stroke-width="1.8" fill="none"><polygon points="785.14,1073.70 791.94,1080.50 785.14,1087.30 778.34,1080.50"/><path d="M778.34,1080.50H791.94M785.14,1073.70V1087.30"/></g>
<g stroke="#68A41C" stroke-width="1.8" fill="none"><polygon points="806.45,1070.76 813.25,1077.56 806.45,1084.36 799.65,1077.56"/><path d="M799.65,1077.56H813.25M806.45,1070.76V1084.36"/></g>
<g stroke="#68A41C" stroke-width="1.8" fill="none"><polygon points="827.75,1070.76 834.55,1077.56 827.75,1084.36 820.95,1077.56"/><path d="M820.95,1077.56H834.55M827.75,1070.76V1084.36"/></g>
<g stroke="#68A41C" stroke-width="1.8" fill="none"><polygon points="849.06,1068.02 855.86,1074.82 849.06,1081.62 842.26,1074.82"/><path d="M842.26,1074.82H855.86M849.06,1068.02V1081.62"/></g>
<g stroke="#68A41C" stroke-width="1.8" fill="none"><polygon points="870.36,1054.00 877.16,1060.80 870.36,1067.60 863.56,1060.80"/><path d="M863.56,1060.80H877.16M870.36,1054.00V1067.60"/></g>
<g stroke="#68A41C" stroke-width="1.8" fill="none"><polygon points="891.67,1003.04 898.47,1009.84 891.67,1016.64 884.87,1009.84"/><path d="M884.87,1009.84H898.47M891.67,1003.04V1016.64"/></g>
<g stroke="#68A41C" stroke-width="1.8" fill="none"><polygon points="912.98,909.94 919.78,916.74 912.98,923.54 906.18,916.74"/><path d="M906.18,916.74H919.78M912.98,909.94V923.54"/></g>
<g stroke="#68A41C" stroke-width="1.8" fill="none"><polygon points="934.28,938.26 941.08,945.06 934.28,951.86 927.48,945.06"/><path d="M927.48,945.06H941.08M934.28,938.26V951.86"/></g>
<g stroke="#68A41C" stroke-width="1.8" fill="none"><polygon points="955.59,997.36 962.39,1004.16 955.59,1010.96 948.79,1004.16"/><path d="M948.79,1004.16H962.39M955.59,997.36V1010.96"/></g>
<g stroke="#68A41C" stroke-width="1.8" fill="none"><polygon points="976.89,1058.41 983.69,1065.21 976.89,1072.01 970.09,1065.21"/><path d="M970.09,1065.21H983.69M976.89,1058.41V1072.01"/></g>
</g>
<path d="M636.00,1031.50h4.0M636.00,982.50h6.8M636.00,933.50h4.0M636.00,884.50h6.8M636.00,835.50h4.0M678.61,1080.50v-6.8M721.22,1080.50v-6.8M763.84,1080.50v-6.8M806.45,1080.50v-6.8M849.06,1080.50v-6.8M891.67,1080.50v-6.8M934.28,1080.50v-6.8M976.89,1080.50v-6.8M657.31,1080.50v-4.0M699.92,1080.50v-4.0M742.53,1080.50v-4.0M785.14,1080.50v-4.0M827.75,1080.50v-4.0M870.36,1080.50v-4.0M912.98,1080.50v-4.0M955.59,1080.50v-4.0" stroke="#000" stroke-width="1.8" fill="none"/>
<path d="M635.00,786.50H999.20M635.00,1080.50H999.20" stroke="#000" stroke-width="2.4" fill="none"/>
<path d="M636.00,785.30V1081.70M998.20,785.30V1081.70" stroke="#000" stroke-width="2" fill="none"/>
<text x="589.28" y="1089.14" font-size="28" fill="#000" style="">0.0</text>
<text x="589.28" y="991.14" font-size="28" fill="#000">0.</text>
<path d="M763 0H583V1147Q518 1085 422 1029Q326 973 225 935V1109Q406 1194 518 1295Q630 1396 670 1466H763Z" fill="#000" transform="translate(612.63,991.14) scale(0.01367,-0.01367)"/>
<text x="589.28" y="893.14" font-size="28" fill="#000" style="">0.2</text>
<text x="641.99" y="817.10" font-size="34" fill="#000" style="">(i)</text>
<path d="M763 0H583V1147Q518 1085 422 1029Q326 973 225 935V1109Q406 1194 518 1295Q630 1396 670 1466H763Z" fill="#000" transform="translate(112.81,1114.90) scale(0.01367,-0.01367)"/>
<text x="157.81" y="1114.90" font-size="28" fill="#000" style="">2</text>
<text x="202.81" y="1114.90" font-size="28" fill="#000" style="">3</text>
<text x="0" y="0" font-size="34" style="font-style:italic;" transform="translate(154.27,1160.80) scale(0.93,1)">v</text>
<text x="170.70" y="1170.00" font-size="21.5" fill="#000" style="">f</text>
<text x="292.31" y="1111.10" font-size="28" fill="#000" style="">0</text>
<text x="337.46" y="1111.10" font-size="28" fill="#000" style="">2</text>
<text x="382.61" y="1111.10" font-size="28" fill="#000" style="">4</text>
<text x="427.76" y="1111.10" font-size="28" fill="#000" style="">6</text>
<text x="472.91" y="1111.10" font-size="28" fill="#000" style="">8</text>
<path d="M763 0H583V1147Q518 1085 422 1029Q326 973 225 935V1109Q406 1194 518 1295Q630 1396 670 1466H763Z" fill="#000" transform="translate(510.28,1111.10) scale(0.01367,-0.01367)"/>
<text x="525.85" y="1111.10" font-size="28" fill="#000">0</text>
<path d="M763 0H583V1147Q518 1085 422 1029Q326 973 225 935V1109Q406 1194 518 1295Q630 1396 670 1466H763Z" fill="#000" transform="translate(555.43,1111.10) scale(0.01367,-0.01367)"/>
<text x="571.00" y="1111.10" font-size="28" fill="#000">2</text>
<text x="0" y="0" font-size="34" style="font-style:italic;" transform="translate(424.17,1153.90) scale(0.93,1)">v</text>
<text x="440.60" y="1163.10" font-size="21.5" fill="#000" style="">f</text>
<text x="628.21" y="1110.30" font-size="28" fill="#000" style="">0</text>
<text x="670.83" y="1110.30" font-size="28" fill="#000" style="">2</text>
<text x="713.44" y="1110.30" font-size="28" fill="#000" style="">4</text>
<text x="756.05" y="1110.30" font-size="28" fill="#000" style="">6</text>
<text x="798.66" y="1110.30" font-size="28" fill="#000" style="">8</text>
<path d="M763 0H583V1147Q518 1085 422 1029Q326 973 225 935V1109Q406 1194 518 1295Q630 1396 670 1466H763Z" fill="#000" transform="translate(833.49,1110.30) scale(0.01367,-0.01367)"/>
<text x="849.06" y="1110.30" font-size="28" fill="#000">0</text>
<path d="M763 0H583V1147Q518 1085 422 1029Q326 973 225 935V1109Q406 1194 518 1295Q630 1396 670 1466H763Z" fill="#000" transform="translate(876.10,1110.30) scale(0.01367,-0.01367)"/>
<text x="891.67" y="1110.30" font-size="28" fill="#000">2</text>
<path d="M763 0H583V1147Q518 1085 422 1029Q326 973 225 935V1109Q406 1194 518 1295Q630 1396 670 1466H763Z" fill="#000" transform="translate(918.71,1110.30) scale(0.01367,-0.01367)"/>
<text x="934.28" y="1110.30" font-size="28" fill="#000">4</text>
<path d="M763 0H583V1147Q518 1085 422 1029Q326 973 225 935V1109Q406 1194 518 1295Q630 1396 670 1466H763Z" fill="#000" transform="translate(961.32,1110.30) scale(0.01367,-0.01367)"/>
<text x="976.89" y="1110.30" font-size="28" fill="#000">6</text>
<text x="0" y="0" font-size="34" style="font-style:italic;" transform="translate(806.27,1150.90) scale(0.93,1)">v</text>
<text x="822.70" y="1160.10" font-size="21.5" fill="#000" style="">f</text>
<text x="0" y="0" font-size="34.4" text-anchor="middle" transform="translate(25.3,342.60) rotate(-90)">Population</text>
<text x="0" y="0" font-size="34.4" text-anchor="middle" transform="translate(25.3,639.30) rotate(-90)">Population</text>
<text x="0" y="0" font-size="34.4" text-anchor="middle" transform="translate(25.3,942.90) rotate(-90)">Population</text>
<text x="0" y="0" font-size="27.5" style="font-style:italic;" transform="translate(153.57,222.10) scale(0.95,1)">v</text>
<text x="167.16" y="229.70" font-size="18.6" fill="#000" style="">i</text>
<text x="170.83" y="222.10" font-size="28" fill="#000" style="">=3</text>
<text x="0" y="0" font-size="27.5" style="font-style:italic;" transform="translate(352.07,223.00) scale(0.95,1)">v</text>
<text x="365.66" y="230.60" font-size="18.6" fill="#000" style="">i</text>
<text x="368.63" y="223.00" font-size="28" fill="#000">=</text>
<path d="M763 0H583V1147Q518 1085 422 1029Q326 973 225 935V1109Q406 1194 518 1295Q630 1396 670 1466H763Z" fill="#000" transform="translate(384.98,223.00) scale(0.01367,-0.01367)"/>
<path d="M763 0H583V1147Q518 1085 422 1029Q326 973 225 935V1109Q406 1194 518 1295Q630 1396 670 1466H763Z" fill="#000" transform="translate(400.56,223.00) scale(0.01367,-0.01367)"/>
<text x="0" y="0" font-size="27.5" style="font-style:italic;" transform="translate(689.57,227.80) scale(0.95,1)">v</text>
<text x="703.16" y="235.40" font-size="18.6" fill="#000" style="">i</text>
<text x="706.43" y="227.80" font-size="28" fill="#000">=</text>
<path d="M763 0H583V1147Q518 1085 422 1029Q326 973 225 935V1109Q406 1194 518 1295Q630 1396 670 1466H763Z" fill="#000" transform="translate(722.78,227.80) scale(0.01367,-0.01367)"/>
<text x="738.36" y="227.80" font-size="28" fill="#000">6</text>
<text x="500.72" y="289.80" font-size="24.5" fill="#0014BE" stroke="#0014BE" stroke-width="0.45">x</text>
<path d="M763 0H583V1147Q518 1085 422 1029Q326 973 225 935V1109Q406 1194 518 1295Q630 1396 670 1466H763Z" fill="#0014BE" stroke="#0014BE" stroke-width="46.5" transform="translate(514.28,280.80) scale(0.00645,-0.00645)"/>
<path d="M517.10,289.40L530.00,271.70" stroke="#0014BE" stroke-width="1.75"/>
<text x="525.68" y="289.80" font-size="13.6" fill="#0014BE" stroke="#0014BE" stroke-width="0.35">3</text>
<text x="928.72" y="242.70" font-size="24.5" fill="#0014BE" stroke="#0014BE" stroke-width="0.45">x</text>
<path d="M763 0H583V1147Q518 1085 422 1029Q326 973 225 935V1109Q406 1194 518 1295Q630 1396 670 1466H763Z" fill="#0014BE" stroke="#0014BE" stroke-width="46.5" transform="translate(942.28,233.70) scale(0.00645,-0.00645)"/>
<path d="M945.10,242.30L958.00,224.60" stroke="#0014BE" stroke-width="1.75"/>
<text x="953.52" y="242.70" font-size="13.6" fill="#0014BE" stroke="#0014BE" stroke-width="0.35">2</text>
<text x="535.62" y="961.20" font-size="24.5" fill="#68A41C" stroke="#68A41C" stroke-width="0.45">x</text>
<path d="M763 0H583V1147Q518 1085 422 1029Q326 973 225 935V1109Q406 1194 518 1295Q630 1396 670 1466H763Z" fill="#68A41C" stroke="#68A41C" stroke-width="46.5" transform="translate(549.18,952.20) scale(0.00645,-0.00645)"/>
<path d="M552.00,960.80L564.90,943.10" stroke="#68A41C" stroke-width="1.75"/>
<text x="560.42" y="961.20" font-size="13.6" fill="#68A41C" stroke="#68A41C" stroke-width="0.35">2</text>
<text x="944.72" y="951.80" font-size="24.5" fill="#68A41C" stroke="#68A41C" stroke-width="0.45">x</text>
<path d="M763 0H583V1147Q518 1085 422 1029Q326 973 225 935V1109Q406 1194 518 1295Q630 1396 670 1466H763Z" fill="#68A41C" stroke="#68A41C" stroke-width="46.5" transform="translate(958.28,942.80) scale(0.00645,-0.00645)"/>
<path d="M961.10,951.40L974.00,933.70" stroke="#68A41C" stroke-width="1.75"/>
<text x="969.52" y="951.80" font-size="13.6" fill="#68A41C" stroke="#68A41C" stroke-width="0.35">2</text>
<text x="23.54" y="27.10" font-size="37" fill="#000" style="">revPBE:</text>
<path d="M166.50,15.00H187.20M211.80,15.00H232.50" stroke="#0014BE" stroke-width="3.0" fill="none"/>
<polygon points="189.66,20.68 209.34,20.68 199.50,3.64" fill="none" stroke="#0014BE" stroke-width="3.0" stroke-linejoin="miter"/>
<text x="240.33" y="24.90" font-size="35" fill="#000" style="">BOMD</text>
<path d="M354.00,15.00H375.75M398.75,15.00H420.50" stroke="#FF0000" stroke-width="3.0" fill="none"/>
<circle cx="387.25" cy="15.00" r="8.36" fill="none" stroke="#FF0000" stroke-width="2.8"/>
<text x="428.57" y="24.90" font-size="35" fill="#000" style="">IESH</text>
<path d="M519.00,15.20H541.00M563.60,15.20H585.60" stroke="#3DB5FF" stroke-width="3.0" fill="none"/>
<circle cx="552.30" cy="15.20" r="8.36" fill="none" stroke="#3DB5FF" stroke-width="2.8"/>
<text x="593.17" y="24.90" font-size="35" fill="#000" style="">IESH(2D)</text>
<path d="M751.50,15.30H771.70M797.10,15.30H817.30" stroke="#66008A" stroke-width="3.0" fill="none"/>
<polygon points="774.19,9.41 794.61,9.41 784.40,27.09" fill="none" stroke="#66008A" stroke-width="3.0" stroke-linejoin="miter"/>
<text x="825.83" y="24.90" font-size="35" fill="#000" style="">HEOM(2D)</text>
<text x="44.53" y="92.00" font-size="37.4" fill="#000">PW9</text>
<path d="M763 0H583V1147Q518 1085 422 1029Q326 973 225 935V1109Q406 1194 518 1295Q630 1396 670 1466H763Z" fill="#000" transform="translate(125.58,92.00) scale(0.01826,-0.01826)"/>
<text x="146.38" y="92.00" font-size="37.4" fill="#000">:</text>
<path d="M165.50,79.80H186.45M211.65,79.80H232.60" stroke="#0014BE" stroke-width="3.2" fill="none"/>
<polygon points="186.99,86.76 211.11,86.76 199.05,65.87" fill="#0014BE"/>
<text x="240.86" y="90.00" font-size="35.8" fill="#000" style="">BOMD</text>
<path d="M354.60,80.00H376.20M400.00,80.00H421.60" stroke="#FF0000" stroke-width="3.2" fill="none"/>
<circle cx="388.10" cy="80.00" r="10.49" fill="#FF0000"/>
<text x="429.90" y="90.00" font-size="35.8" fill="#000" style="">IESH</text>
<path d="M520.50,80.30H541.50M566.50,80.30H587.50" stroke="#68A41C" stroke-width="3.2" fill="none"/>
<polygon points="554.00,67.82 566.48,80.30 554.00,92.78 541.52,80.30" fill="#68A41C"/>
<text x="595.06" y="90.00" font-size="35.8" fill="#000" style="">MDEF(ODF)</text>
<text x="77.16" y="157.00" font-size="37" fill="#000" style="">RST</text>
<text x="146.42" y="157.00" font-size="37" fill="#000" style="">:</text>
<path d="M164.20,145.40H187.70M213.30,145.40H236.80" stroke="#FF0000" stroke-width="3.4" fill="none"/>
<g stroke="#FF0000" stroke-width="2.6" fill="none"><circle cx="200.50" cy="145.40" r="9.46"/><path d="M191.04,145.40H209.96M200.50,135.94V154.86"/></g>
<text x="245.49" y="155.80" font-size="38" fill="#000" style="">IESH</text>
<path d="M342.80,145.40H365.50M392.10,145.40H414.80" stroke="#68A41C" stroke-width="3.4" fill="none"/>
<g stroke="#68A41C" stroke-width="3.0" fill="none"><polygon points="378.80,134.11 390.09,145.40 378.80,156.69 367.51,145.40"/><path d="M367.51,145.40H390.09M378.80,134.11V156.69"/></g>
<text x="423.68" y="155.80" font-size="38" fill="#000" style="">MDEF</text>
<rect x="547.9" y="123.9" width="68.2" height="33.2" fill="#808080" stroke="#000" stroke-width="3.8" stroke-linejoin="round"/>
<text x="624.48" y="151.00" font-size="38" fill="#000" style="">Expt.</text>
</svg></body></html>
